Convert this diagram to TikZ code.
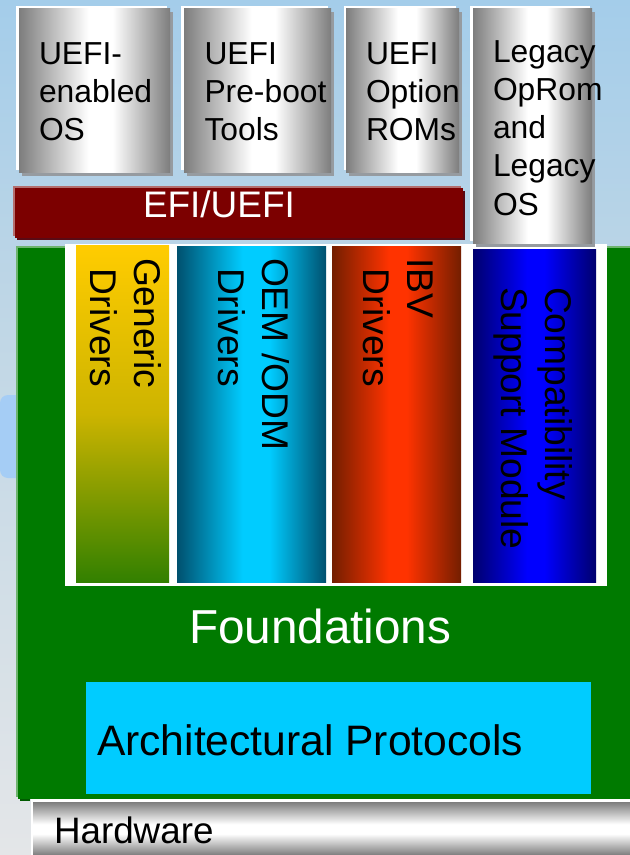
\documentclass[tikz,border=0pt]{standalone}
\usepackage{fontspec}
\setmainfont{Liberation Sans}
\definecolor{bgtop}{RGB}{164,205,234}
\definecolor{bgmid}{RGB}{190,214,230}
\definecolor{bgbot}{RGB}{228,230,232}
\definecolor{bgpatch}{RGB}{165,205,245}
\definecolor{steel}{RGB}{125,125,125}
\definecolor{boxshadow}{RGB}{150,155,160}
\definecolor{leaf}{RGB}{0,122,0}
\definecolor{leafedge}{RGB}{110,180,110}
\definecolor{leafdark}{RGB}{0,90,0}
\definecolor{maroon}{RGB}{124,0,0}
\definecolor{maroonedge}{RGB}{180,110,110}
\definecolor{maroondark}{RGB}{90,10,20}
\definecolor{skyfill}{RGB}{0,204,255}
\definecolor{tealedge}{RGB}{0,80,110}
\definecolor{gold}{RGB}{255,204,0}
\definecolor{goldmid}{RGB}{205,180,0}
\definecolor{goldbot}{RGB}{50,128,0}
\definecolor{fire}{RGB}{255,51,0}
\definecolor{fireedge}{RGB}{115,30,0}
\definecolor{navy}{RGB}{0,0,110}
\definecolor{pureblue}{RGB}{0,0,255}
\pgfdeclarehorizontalshading{metalx}{100bp}{color(0bp)=(steel); color(25bp)=(steel); color(48bp)=(white); color(56bp)=(white); color(75bp)=(steel); color(100bp)=(steel)}
\pgfdeclareverticalshading{metaly}{100bp}{color(0bp)=(steel); color(25bp)=(steel); color(45bp)=(white); color(54bp)=(white); color(75bp)=(steel); color(100bp)=(steel)}
\pgfdeclarehorizontalshading{tealx}{100bp}{color(0bp)=(tealedge); color(25bp)=(tealedge); color(47bp)=(skyfill); color(56bp)=(skyfill); color(75bp)=(tealedge); color(100bp)=(tealedge)}
\pgfdeclarehorizontalshading{firex}{100bp}{color(0bp)=(fireedge); color(25bp)=(fireedge); color(47bp)=(fire); color(54bp)=(fire); color(75bp)=(fireedge); color(100bp)=(fireedge)}
\pgfdeclarehorizontalshading{bluex}{100bp}{color(0bp)=(navy); color(25bp)=(navy); color(47bp)=(pureblue); color(54bp)=(pureblue); color(75bp)=(navy); color(100bp)=(navy)}
\newcommand\pxbox[6]{%
  \pgfmathsetmacro\pxw{(#4-#2)*.75}%
  \pgfmathsetmacro\pxh{(#5-#3)*.75}%
  \node[anchor=north west,inner sep=0pt,outer sep=0pt,minimum width=\pxw pt,minimum height=\pxh pt,#6] (#1) at (#2,#3) {};%
}
\newcommand\topstrut{\rule{0pt}{22pt}}
\newcommand\rotstrut{\rule{0pt}{29pt}}
\newcommand\driverskip{\hspace*{8.2pt}}
\tikzset{
  metal/.style={shade,shading=metalx},
  metalh/.style={shade,shading=metaly},
  plate/.style={fill=white},
  drop/.style={fill=boxshadow},
  boxlabel/.style={anchor=north west,inner sep=0pt,outer sep=0pt,align=left,text=black,font=\fontsize{23.85}{28.6}\selectfont},
  rotlabel/.style={anchor=north west,inner sep=0pt,outer sep=0pt,align=left,text=black,rotate=-90,font=\fontsize{27.9}{33}\selectfont},
  linelabel/.style={anchor=base west,inner sep=0pt,outer sep=0pt}
}
\begin{document}
\begin{tikzpicture}[x=.75pt,y=-.75pt]
\useasboundingbox (0,0) rectangle (630,855);
% background
\pxbox{bgA}{0}{0}{630}{300}{top color=bgtop,bottom color=bgmid}
\pxbox{bgB}{0}{300}{630}{855}{top color=bgmid,bottom color=bgbot}
\pxbox{patch}{0}{395}{30}{478}{fill=bgpatch,rounded corners=6pt}
% foundations panel
\pxbox{greenEdge}{16}{246}{630}{797}{fill=leafedge}
\pxbox{greenDrop}{20}{790}{30}{801}{fill=leafdark}
\pxbox{green}{18}{248}{630}{799}{fill=leaf}
\pxbox{colPlate}{65}{244}{607}{586}{plate}
\pxbox{colGeneric}{76}{246}{169}{582}{top color=gold,bottom color=goldbot,middle color=goldmid}
\pxbox{colOem}{177}{247}{326}{582}{shade,shading=tealx}
\pxbox{colIbv}{332}{247}{461}{582}{shade,shading=firex}
\pxbox{colCsm}{473}{250}{596}{582}{shade,shading=bluex}
\pxbox{arch}{86}{682}{591}{794}{fill=skyfill}
% hardware
\pxbox{hwPlate}{31}{799}{630}{855}{plate}
\pxbox{hw}{33}{802}{630}{855}{metalh}
% EFI bar
\pxbox{efiEdge}{13}{186}{461}{236}{fill=maroonedge}
\pxbox{efiDrop}{17}{191}{465}{240}{fill=maroondark}
\pxbox{efi}{15}{188}{463}{238}{fill=maroon}
% top boxes
\pxbox{aPlate}{16}{6}{167}{170}{plate}
\pxbox{aDrop}{22}{12}{173}{176}{drop}
\pxbox{a}{19}{9}{170}{173}{metal}
\pxbox{bPlate}{181}{6}{328}{170}{plate}
\pxbox{bDrop}{187}{12}{334}{176}{drop}
\pxbox{b}{184}{9}{331}{173}{metal}
\pxbox{cPlate}{344}{6}{456}{170}{plate}
\pxbox{cDrop}{349}{12}{462}{176}{drop}
\pxbox{c}{346}{9}{459}{173}{metal}
\pxbox{dPlate}{470}{6}{590}{241}{plate}
\pxbox{dDrop}{476}{12}{595}{247}{drop}
\pxbox{d}{473}{9}{592}{244}{metal}
% labels
\node[boxlabel] (ta) at (39,35.2) {\topstrut UEFI-\\enabled\\OS};
\node[boxlabel] (tb) at (204.5,35.2) {\topstrut UEFI\\Pre-boot\\Tools};
\node[boxlabel] (tc) at (366,35.2) {\topstrut UEFI\\Option\\ROMs};
\node[boxlabel] (td) at (493,33.2) {\topstrut Legacy\\OpRom\\and\\Legacy\\OS};
\node[linelabel,text=white,font=\fontsize{27.7}{33}\selectfont] (te) at (143,218) {EFI/UEFI};
\node[rotlabel] (g1) at (172.7,258) {\rotstrut Generic\\\driverskip Drivers};
\node[rotlabel] (g2) at (300.7,258) {\rotstrut OEM /ODM\\\driverskip Drivers};
\node[rotlabel] (g3) at (445.7,258) {\rotstrut IBV\\\driverskip Drivers};
\node[rotlabel] (g4) at (583.7,287) {\rotstrut Compatibility\\Support Module};
\node[linelabel,text=white,font=\fontsize{35.75}{42}\selectfont] (tf) at (189,643) {Foundations};
\node[linelabel,text=black,font=\fontsize{31.95}{38}\selectfont] (tp) at (97,755) {Architectural Protocols};
\node[linelabel,text=black,font=\fontsize{27.6}{33}\selectfont] (th) at (54,843) {Hardware};
\end{tikzpicture}
\end{document}
